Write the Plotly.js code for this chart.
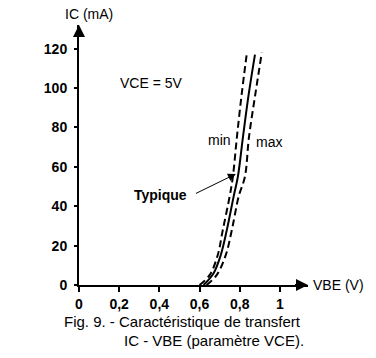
<!DOCTYPE html>
<html><head><meta charset="utf-8">
<script src="https://cdn.plot.ly/plotly-3.0.1.min.js"></script>
<style>html,body{margin:0;padding:0;background:#fff;}#chart{width:376px;height:358px;}</style>
</head><body><div id="chart"></div>
<script>
// VBE (V) and IC (mA)
const vbeMin = [0.60, 0.65, 0.69, 0.716, 0.75, 0.766, 0.786, 0.81, 0.836];
const icMin  = [0, 5, 15, 28, 45, 55, 75, 97, 118];
const vbeTyp = [0.62, 0.67, 0.705, 0.736, 0.77, 0.791, 0.816, 0.845, 0.876];
const icTyp  = [0, 6, 15, 28, 45, 55, 75, 97, 117];
const vbeMax = [0.635, 0.685, 0.73, 0.761, 0.795, 0.826, 0.846, 0.878, 0.91];
const icMax  = [0, 5, 15, 28, 45, 55, 75, 97, 118];
const xTickVals = [0, 0.2, 0.4, 0.6, 0.8, 1];
const xTickText = ["0", "0,2", "0,4", "0,6", "0,8", "1"];
const yTickVals = [0, 20, 40, 60, 80, 100, 120];

const fam = "Liberation Sans, Arial, sans-serif";
const tickFont = {family: fam, size: 14, color: "#000", weight: "bold"};
const txtFont = {family: fam, size: 14, color: "#000"};
const boldFont = {family: fam, size: 14, color: "#000", weight: "bold"};
const capFont = {family: fam, size: 15, color: "#000"};

const traces = [
  {x: vbeMin, y: icMin, mode: "lines", line: {color: "#000", width: 2, dash: "7px,4px", shape: "spline"}, hoverinfo: "skip"},
  {x: vbeTyp, y: icTyp, mode: "lines", line: {color: "#000", width: 2, shape: "spline"}, hoverinfo: "skip"},
  {x: vbeMax, y: icMax, mode: "lines", line: {color: "#000", width: 2, dash: "7px,4px", shape: "spline"}, hoverinfo: "skip"}
];

const layout = {
  width: 376, height: 358,
  margin: {l: 79, r: 68, t: 25, b: 73},
  paper_bgcolor: "#fff", plot_bgcolor: "#fff",
  showlegend: false,
  xaxis: {range: [0, 1.14], tickvals: xTickVals, ticktext: xTickText, showgrid: false, zeroline: false,
          showline: true, linecolor: "#000", linewidth: 2, ticks: "outside", ticklen: 5, tickwidth: 2, tickcolor: "#000",
          tickfont: tickFont, fixedrange: true},
  yaxis: {range: [0, 132], tickvals: yTickVals, showgrid: false, zeroline: false,
          showline: true, linecolor: "#000", linewidth: 2, ticks: "outside", ticklen: 3, tickwidth: 2, tickcolor: "#000",
          tickfont: tickFont, ticklabelstandoff: 4, fixedrange: true},
  annotations: [
    {x: 1.0, y: 0, xref: "paper", yref: "paper", ax: -16, ay: 0, showarrow: true, arrowhead: 2, arrowsize: 1.2, arrowwidth: 2, arrowcolor: "#000", text: " "},
    {x: 0, y: 1.0, xref: "paper", yref: "paper", ax: 0, ay: 16, showarrow: true, arrowhead: 2, arrowsize: 1.2, arrowwidth: 2, arrowcolor: "#000", text: " "},
    {x: 0.044, y: 1.042, xref: "paper", yref: "paper", xanchor: "center", yanchor: "middle", text: "IC (mA)", showarrow: false, font: txtFont},
    {x: 1.013, y: 0, xref: "paper", yref: "paper", xanchor: "left", yanchor: "middle", text: "VBE (V)", showarrow: false, font: txtFont},
    {x: 0.363, y: 102.7, xref: "x", yref: "y", xanchor: "center", yanchor: "middle", text: "VCE = 5V", showarrow: false, font: txtFont},
    {x: 0.70, y: 73.7, xref: "x", yref: "y", xanchor: "center", yanchor: "middle", text: "min", showarrow: false, font: txtFont},
    {x: 0.945, y: 72.7, xref: "x", yref: "y", xanchor: "center", yanchor: "middle", text: "max", showarrow: false, font: txtFont},
    {x: 0.405, y: 45.8, xref: "x", yref: "y", xanchor: "center", yanchor: "middle", text: "Typique", showarrow: false, font: boldFont},
    {x: 0.781, y: 56.4, xref: "x", yref: "y", ax: -43, ay: 21, showarrow: true, arrowhead: 2, arrowsize: 1.6, arrowwidth: 1, arrowcolor: "#000", text: " ", standoff: 0},
    {x: -0.074, y: -0.142, xref: "paper", yref: "paper", xanchor: "left", yanchor: "middle", text: "Fig. 9. - Caractéristique de transfert", showarrow: false, font: capFont},
    {x: 0.188, y: -0.215, xref: "paper", yref: "paper", xanchor: "left", yanchor: "middle", text: "IC - VBE (paramètre VCE).", showarrow: false, font: capFont}
  ]
};

Plotly.newPlot("chart", traces, layout, {staticPlot: true, displayModeBar: false});
</script></body></html>
